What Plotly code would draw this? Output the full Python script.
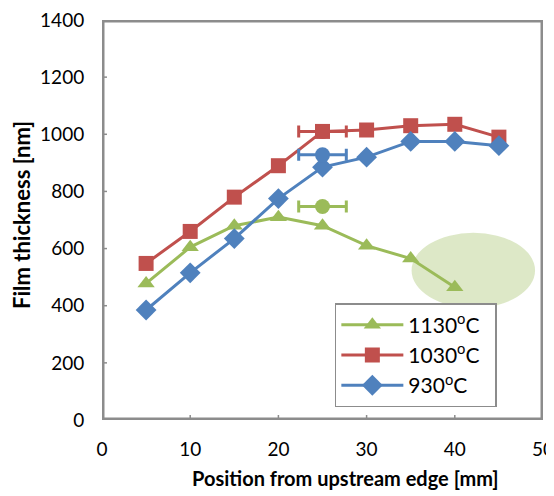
import plotly.graph_objects as go

# Data
positions = [5, 10, 15, 20, 25, 30, 35, 40, 45]
t930 = [385, 515, 635, 775, 885, 920, 975, 975, 960]
t1030 = [548, 660, 780, 890, 1010, 1015, 1030, 1035, 990]
pos1130 = [5, 10, 15, 20, 25, 30, 35, 40]
t1130 = [478, 605, 680, 710, 680, 610, 565, 465]
series_names = ["1130<sup>o</sup>C\u00a0\u00a0", "1030<sup>o</sup>C\u00a0\u00a0", "930<sup>o</sup>C\u00a0\u00a0"]

# Mean points with horizontal error bars
mean_x = [25, 25, 25]
mean_y = [1010, 928, 747]
mean_err = [2.7, 2.7, 2.7]
mean_colors = ["#C0504D", "#4F81BD", "#9BBB59"]

# Highlight ellipse (data coords): x range, y range
ellipse_x = [35.1, 49.1]
ellipse_y = [392, 655]

x_range = [0, 50]
y_range = [0, 1400]
x_ticks = [0, 10, 20, 30, 40, 50]
y_ticks = [0, 200, 400, 600, 800, 1000, 1200, 1400]
x_title = "Position from upstream edge [mm]"
y_title = "Film thickness [nm]"

GREEN = "#9BBB59"
RED = "#C0504D"
BLUE = "#4F81BD"
GRAY = "#8C8C8C"
FONT = "Lato"

fig = go.Figure()

# plot frame drawn as a closed line along the axis ranges
frame_x = [x_range[0], x_range[1], x_range[1], x_range[0], x_range[0]]
frame_y = [y_range[0], y_range[0], y_range[1], y_range[1], y_range[0]]
fig.add_trace(go.Scatter(x=frame_x, y=frame_y, mode="lines", showlegend=False,
                         hoverinfo="skip", line=dict(color=GRAY, width=5)))

# short inside tick marks (about 5 px long)
tick_dx = (x_range[1] - x_range[0]) * 5 / 441
tick_dy = (y_range[1] - y_range[0]) * 5 / 400
ytx, yty = [], []
for yt in y_ticks:
    ytx += [x_range[0], x_range[0] + tick_dx, None]
    yty += [yt, yt, None]
xtx, xty = [], []
for xt in x_ticks:
    xtx += [xt, xt, None]
    xty += [y_range[0], y_range[0] + tick_dy, None]
fig.add_trace(go.Scatter(x=ytx + xtx, y=yty + xty, mode="lines", showlegend=False,
                         hoverinfo="skip", line=dict(color=GRAY, width=1.5)))

fig.add_trace(go.Scatter(x=pos1130, y=t1130, mode="lines+markers", name=series_names[0],
                         line=dict(color=GREEN, width=3),
                         marker=dict(symbol="triangle-up", size=15, color=GREEN)))
fig.add_trace(go.Scatter(x=positions, y=t1030, mode="lines+markers", name=series_names[1],
                         line=dict(color=RED, width=3),
                         marker=dict(symbol="square", size=15, color=RED)))
fig.add_trace(go.Scatter(x=positions, y=t930, mode="lines+markers", name=series_names[2],
                         line=dict(color=BLUE, width=3),
                         marker=dict(symbol="diamond", size=16, color=BLUE)))

for mx, my, me, mc in zip(mean_x, mean_y, mean_err, mean_colors):
    fig.add_trace(go.Scatter(x=[mx], y=[my], mode="markers", showlegend=False,
                             marker=dict(symbol="circle", size=15, color=mc),
                             error_x=dict(type="constant", value=me, color=mc,
                                          thickness=3, width=6)))

fig.add_shape(type="circle", xref="x", yref="y",
              x0=ellipse_x[0], x1=ellipse_x[1], y0=ellipse_y[0], y1=ellipse_y[1],
              fillcolor="rgba(215,228,189,0.85)", line=dict(width=0), layer="below")

# labels only on the axes (transparent outside ticks push the labels away)
axis_common = dict(showline=False, showgrid=False, zeroline=False, ticks="outside",
                   tickcolor="rgba(0,0,0,0)", automargin=False,
                   ticklabeloverflow="allow",
                   tickfont=dict(family=FONT, size=19, color="#000"))

# the page body has an 8px margin, so margins are shifted to compensate
fig.update_layout(
    width=554, height=496,
    margin=dict(l=94, r=19, t=12, b=84),
    plot_bgcolor="white", paper_bgcolor="white",
    xaxis=dict(range=x_range, tickvals=x_ticks, ticklen=12, **axis_common),
    yaxis=dict(range=y_range, tickvals=y_ticks, ticklen=13, **axis_common),
    legend=dict(x=0.528, y=0.2925, xanchor="left", yanchor="top",
                bgcolor="white", bordercolor=GRAY, borderwidth=1.5,
                font=dict(family=FONT, size=21, color="#000"),
                itemwidth=62),
    showlegend=True,
)

fig.add_annotation(text="<b>" + x_title + "</b>", xref="paper", yref="paper",
                   x=0.553, y=-0.145, xanchor="center", yanchor="middle", showarrow=False,
                   font=dict(family=FONT, size=20, color="#000"))
fig.add_annotation(text="<b>" + y_title + "</b>", xref="paper", yref="paper",
                   x=-0.1837, y=0.5125, xanchor="center", yanchor="middle", showarrow=False,
                   textangle=-90, font=dict(family=FONT, size=22, color="#000"))

fig.write_html("out.html")
